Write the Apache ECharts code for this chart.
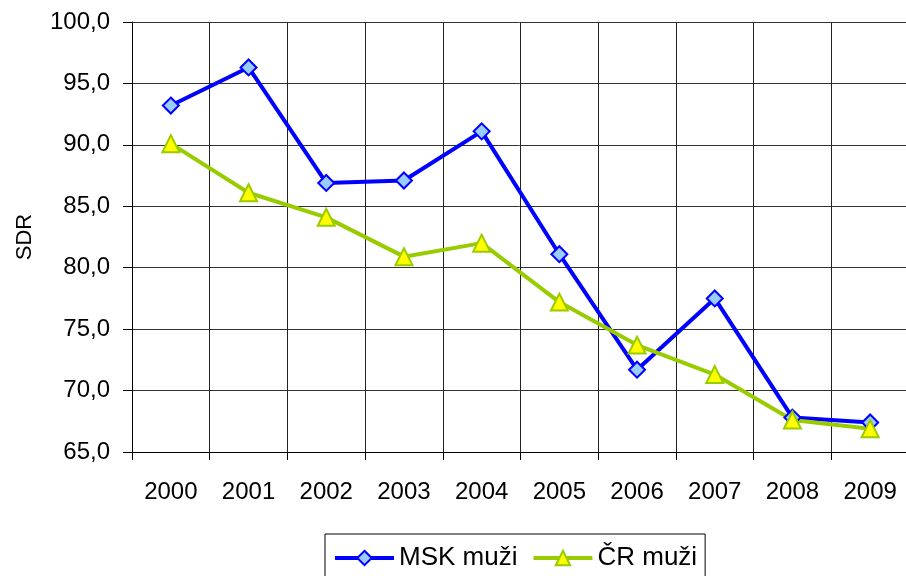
<!DOCTYPE html>
<html>
<head>
<meta charset="utf-8">
<script src="https://cdn.jsdelivr.net/npm/echarts@6/dist/echarts.min.js"></script>
<style>
  html, body { margin: 0; padding: 0; background: #fff; }
  #chart { width: 906px; height: 576px; }
</style>
</head>
<body>
<div id="chart"></div>
<script>
// Standardised death rate (SDR), men, 2000–2009
const years = ['2000', '2001', '2002', '2003', '2004', '2005', '2006', '2007', '2008', '2009'];
const mskMen = [93.2, 96.3, 86.9, 87.1, 91.1, 81.1, 71.7, 77.5, 67.8, 67.4];
const crMen = [90.1, 86.1, 84.1, 80.9, 82.0, 77.2, 73.7, 71.3, 67.6, 66.9];
const seriesNames = ['MSK muži', 'ČR muži'];

const font = 'Liberation Sans, Arial, sans-serif';
const chart = echarts.init(document.getElementById('chart'), null, { renderer: 'canvas' });

chart.setOption({
  animation: false,
  backgroundColor: '#ffffff',
  grid: { left: 132, right: -3, top: 22, bottom: 124, containLabel: false, outerBoundsMode: 'none' },
  legend: {
    data: seriesNames,
    left: 325,
    top: 534,
    padding: [11, 8, 8, 8],
    itemWidth: 59,
    itemHeight: 18,
    itemGap: 14,
    borderColor: '#000',
    borderWidth: 1,
    lineStyle: { width: 4 },
    textStyle: { fontFamily: font, fontSize: 26, color: '#000' }
  },
  xAxis: {
    type: 'category',
    data: years,
    boundaryGap: true,
    axisLine: { show: true, lineStyle: { color: '#000', width: 1 } },
    axisTick: { show: true, length: 8, lineStyle: { color: '#000' } },
    axisLabel: { fontFamily: font, fontSize: 24, color: '#000', margin: 28 },
    splitLine: { show: true, lineStyle: { color: '#222', width: 1 } }
  },
  yAxis: {
    type: 'value',
    min: 65,
    max: 100,
    interval: 5,
    name: 'SDR',
    nameLocation: 'middle',
    nameGap: 96,
    nameRotate: 90,
    nameTextStyle: { fontFamily: font, fontSize: 22, color: '#000' },
    axisLine: { show: true, lineStyle: { color: '#000', width: 1 } },
    axisTick: { show: true, length: 9, lineStyle: { color: '#000' } },
    axisLabel: {
      fontFamily: font, fontSize: 24, color: '#000', margin: 22,
      formatter: v => v.toFixed(1).replace('.', ',')
    },
    splitLine: { show: true, lineStyle: { color: '#333', width: 1 } }
  },
  series: [
    {
      name: seriesNames[0],
      type: 'line',
      data: mskMen,
      symbol: 'diamond',
      symbolSize: 16,
      lineStyle: { color: '#0000ff', width: 4 },
      itemStyle: { color: '#99ccff', borderColor: '#0000ff', borderWidth: 2 }
    },
    {
      name: seriesNames[1],
      type: 'line',
      data: crMen,
      symbol: 'triangle',
      symbolSize: 17,
      lineStyle: { color: '#99cc00', width: 4 },
      itemStyle: { color: '#ffff00', borderColor: '#99cc00', borderWidth: 2 }
    }
  ]
});
</script>
</body>
</html>
